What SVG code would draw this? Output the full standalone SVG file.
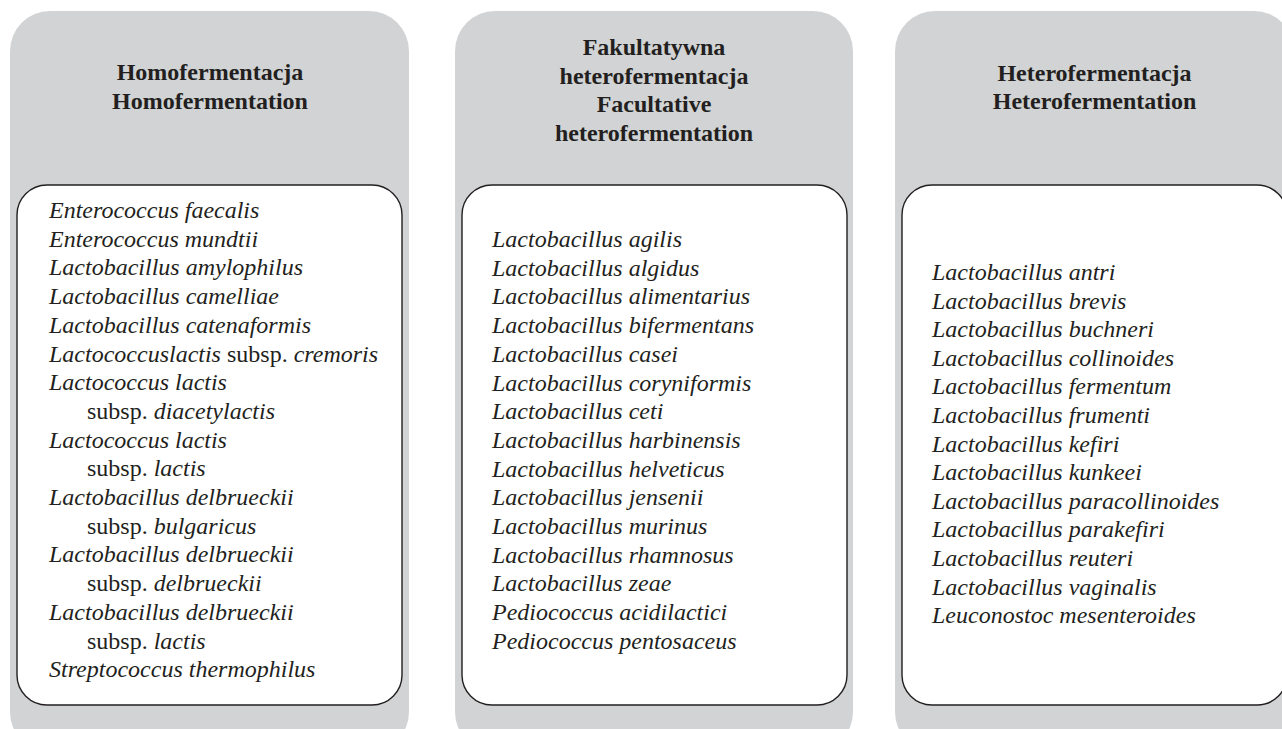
<svg xmlns="http://www.w3.org/2000/svg" width="1282" height="729" viewBox="0 0 1282 729">
<style>
.panel{fill:#d1d3d4;stroke:none}
.box{fill:#ffffff;stroke:#231f20;stroke-width:1.4}
.title{font-family:"Liberation Serif","Times New Roman",serif;font-size:24px;font-weight:bold;fill:#231f20;text-anchor:middle}
.list{font-family:"Liberation Serif","Times New Roman",serif;font-size:24px;font-style:italic;fill:#231f20}
.r{font-style:normal}
</style>
<rect width="1282" height="729" fill="#ffffff"/>
<g id="homo">
<rect class="panel" x="10" y="11" width="399" height="741" rx="40"/>
<rect class="box" x="17" y="185" width="385" height="520" rx="30"/>
<text class="title" x="210" y="80">Homofermentacja</text>
<text class="title" x="210" y="109">Homofermentation</text>
<text class="list">
<tspan x="49" y="218">Enterococcus faecalis</tspan>
<tspan x="49" y="246.7">Enterococcus mundtii</tspan>
<tspan x="49" y="275.4">Lactobacillus amylophilus</tspan>
<tspan x="49" y="304.1">Lactobacillus camelliae</tspan>
<tspan x="49" y="332.8">Lactobacillus catenaformis</tspan>
<tspan x="49" y="361.5">Lactococcuslactis <tspan class="r">subsp.</tspan> cremoris</tspan>
<tspan x="49" y="390.2">Lactococcus lactis</tspan>
<tspan x="87" y="418.9"><tspan class="r">subsp.</tspan> diacetylactis</tspan>
<tspan x="49" y="447.6">Lactococcus lactis</tspan>
<tspan x="87" y="476.3"><tspan class="r">subsp.</tspan> lactis</tspan>
<tspan x="49" y="505">Lactobacillus delbrueckii</tspan>
<tspan x="87" y="533.7"><tspan class="r">subsp.</tspan> bulgaricus</tspan>
<tspan x="49" y="562.4">Lactobacillus delbrueckii</tspan>
<tspan x="87" y="591.1"><tspan class="r">subsp.</tspan> delbrueckii</tspan>
<tspan x="49" y="619.8">Lactobacillus delbrueckii</tspan>
<tspan x="87" y="648.5"><tspan class="r">subsp.</tspan> lactis</tspan>
<tspan x="49" y="677.2">Streptococcus thermophilus</tspan>
</text>
</g>
<g id="facultative">
<rect class="panel" x="455" y="11" width="398" height="741" rx="40"/>
<rect class="box" x="462" y="185" width="385" height="520" rx="30"/>
<text class="title" x="654" y="55">Fakultatywna</text>
<text class="title" x="654" y="83.5">heterofermentacja</text>
<text class="title" x="654" y="112">Facultative</text>
<text class="title" x="654" y="140.5">heterofermentation</text>
<text class="list">
<tspan x="492" y="247">Lactobacillus agilis</tspan>
<tspan x="492" y="275.7">Lactobacillus algidus</tspan>
<tspan x="492" y="304.4">Lactobacillus alimentarius</tspan>
<tspan x="492" y="333.1">Lactobacillus bifermentans</tspan>
<tspan x="492" y="361.8">Lactobacillus casei</tspan>
<tspan x="492" y="390.5">Lactobacillus coryniformis</tspan>
<tspan x="492" y="419.2">Lactobacillus ceti</tspan>
<tspan x="492" y="447.9">Lactobacillus harbinensis</tspan>
<tspan x="492" y="476.6">Lactobacillus helveticus</tspan>
<tspan x="492" y="505.3">Lactobacillus jensenii</tspan>
<tspan x="492" y="534">Lactobacillus murinus</tspan>
<tspan x="492" y="562.7">Lactobacillus rhamnosus</tspan>
<tspan x="492" y="591.4">Lactobacillus zeae</tspan>
<tspan x="492" y="620.1">Pediococcus acidilactici</tspan>
<tspan x="492" y="648.8">Pediococcus pentosaceus</tspan>
</text>
</g>
<g id="hetero">
<rect class="panel" x="895" y="11" width="399" height="741" rx="40"/>
<rect class="box" x="902" y="185" width="385" height="520" rx="30"/>
<text class="title" x="1094.5" y="81">Heterofermentacja</text>
<text class="title" x="1094.5" y="109">Heterofermentation</text>
<text class="list">
<tspan x="932" y="280">Lactobacillus antri</tspan>
<tspan x="932" y="308.6">Lactobacillus brevis</tspan>
<tspan x="932" y="337.2">Lactobacillus buchneri</tspan>
<tspan x="932" y="365.8">Lactobacillus collinoides</tspan>
<tspan x="932" y="394.4">Lactobacillus fermentum</tspan>
<tspan x="932" y="423">Lactobacillus frumenti</tspan>
<tspan x="932" y="451.6">Lactobacillus kefiri</tspan>
<tspan x="932" y="480.2">Lactobacillus kunkeei</tspan>
<tspan x="932" y="508.8">Lactobacillus paracollinoides</tspan>
<tspan x="932" y="537.4">Lactobacillus parakefiri</tspan>
<tspan x="932" y="566">Lactobacillus reuteri</tspan>
<tspan x="932" y="594.6">Lactobacillus vaginalis</tspan>
<tspan x="932" y="623.2">Leuconostoc mesenteroides</tspan>
</text>
</g>
<g id="connectors"></g>
</svg>
